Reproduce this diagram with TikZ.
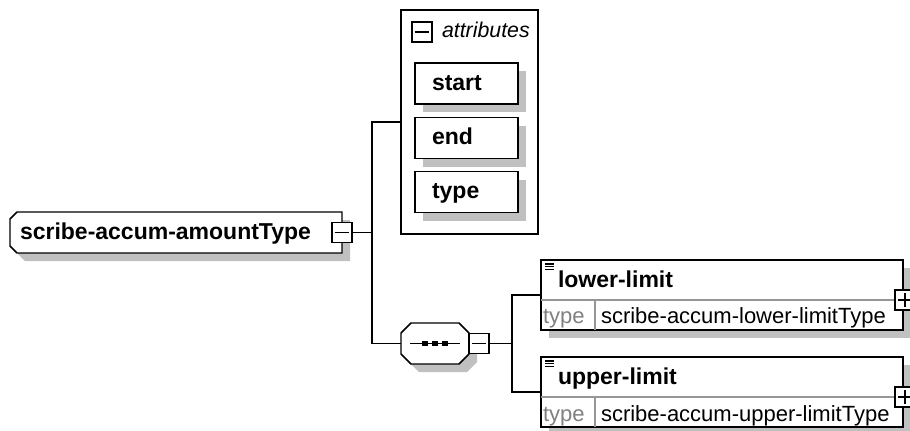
\documentclass[tikz,border=0pt]{standalone}
\usepackage{fontspec}
\setmainfont{Liberation Sans}
\usetikzlibrary{backgrounds,shadows}
\definecolor{shadowgray}{RGB}{192,192,192}
\definecolor{rowgray}{RGB}{150,150,150}
\definecolor{lblgray}{RGB}{128,128,128}
\newcommand\xsbold{\fontsize{17.25pt}{20pt}\selectfont\bfseries}
\newcommand\xsreg{\fontsize{16.5pt}{19pt}\selectfont}
\newcommand\xsital{\fontsize{16pt}{19pt}\selectfont\itshape}

\begin{document}
\begin{tikzpicture}[x=0.75pt, y=-0.75pt,
  every node/.style={inner sep=0pt, outer sep=0pt},
  shadebox/.style={drop shadow={shadow xshift=6pt, shadow yshift=-6pt, fill=shadowgray, opacity=1}},
  shadefill/.style={fill=shadowgray, transform canvas={xshift=6pt, yshift=-6pt}},
  outline/.style={draw, fill=white, line width=1.1pt},
  typebox/.style={minimum width=249pt, minimum height=30.75pt, text width=234pt, inner xsep=7.5pt, align=left, text height=13pt, text depth=3.2pt, font=\xsbold},
  togglebox/.style={draw, fill=white, line width=0.9pt, minimum size=15pt},
  minus/.style={path picture={\draw[line width=0.9pt] ([xshift=-5.5pt]path picture bounding box.center) -- ([xshift=5.5pt]path picture bounding box.center);}},
  plus/.style={path picture={\draw[line width=0.9pt] ([xshift=-5.5pt]path picture bounding box.center) -- ([xshift=5.5pt]path picture bounding box.center) ([yshift=-5.5pt]path picture bounding box.center) -- ([yshift=5.5pt]path picture bounding box.center);}},
  attrframe/.style={draw, fill=white, line width=1.1pt, minimum width=102.75pt, minimum height=168pt},
  grouplbl/.style={anchor=base west, font=\xsital},
  attrbox/.style={draw, fill=white, line width=1.1pt, minimum width=77.25pt, minimum height=30.75pt, text width=51.75pt, inner xsep=12.75pt, align=left, text height=13pt, text depth=3.2pt, font=\xsbold, shadebox},
  seqbox/.style={minimum width=51pt, minimum height=30.75pt,
    path picture={
      \draw[line width=1.1pt] ([xshift=-18.75pt]path picture bounding box.center) -- ([xshift=18.75pt]path picture bounding box.center);
      \foreach \dx in {-7.5pt,0pt,7.5pt}
        \fill[black] ([xshift=\dx]path picture bounding box.center) +(-2.1pt,-2.1pt) rectangle +(2.1pt,2.1pt);
    }},
  elembox/.style={draw, fill=white, line width=1.1pt, minimum width=271.5pt, minimum height=52.5pt, shadebox},
  elemname/.style={anchor=base west, font=\xsbold},
  typelbl/.style={anchor=base west, font=\xsreg, text=lblgray},
  typeval/.style={anchor=base west, font=\xsreg},
  rowline/.style={draw=rowgray, line width=0.9pt},
  iconline/.style={line width=1pt},
  conn/.style={line width=1.3pt}
]
\useasboundingbox (0,0) rectangle (910,430);

\node[typebox] (main) at (176,232.5) {scribe-accum-amountType};
\node[seqbox] (seq) at (435,343.5) {};
\begin{pgfonlayer}{background}
\foreach \sty in {shadefill,outline} {
  \path[\sty] ([xshift=5.25pt]main.north west) -- (main.north east) -- (main.south east)
    -- ([xshift=5.25pt]main.south west) -- ([yshift=5.25pt]main.south west)
    -- ([yshift=-5.25pt]main.north west) -- cycle;
  \path[\sty] ([xshift=7.5pt]seq.north west) -- ([xshift=-7.5pt]seq.north east)
    -- ([yshift=-7.5pt]seq.north east) -- ([yshift=7.5pt]seq.south east)
    -- ([xshift=-7.5pt]seq.south east) -- ([xshift=7.5pt]seq.south west)
    -- ([yshift=7.5pt]seq.south west) -- ([yshift=-7.5pt]seq.north west) -- cycle;
}
\end{pgfonlayer}
\node[togglebox, minus] (main-tog) at (main.east) {};
\node[togglebox, minus, anchor=west] (seq-tog) at (seq.east) {};

\node[attrframe] (attrs) at (469.5,122) {};
\node[togglebox, minus] (attrs-tog) at (422,32) {};
\node[grouplbl] (attrs-lbl) at (442,37) {attributes};
\node[attrbox] (a-start) at (466.5,83.5) {start};
\node[attrbox] (a-end)   at (466.5,138)  {end};
\node[attrbox] (a-type)  at (466.5,192)  {type};

\node[elembox] (low) at (722,295) {};
\draw[rowline] (low.west |- 0,300) -- (low.east |- 0,300);
\draw[rowline] (595,300) -- (595,330);
\node[elemname] (low-name) at (558,287) {lower-limit};
\node[typelbl]  (low-lbl)  at (543,323) {type};
\node[typeval]  (low-val)  at (601,323) {scribe-accum-lower-limitType};
\node[togglebox, plus] (low-tog) at (905,300) {};

\node[elembox] (up) at (722,392) {};
\draw[rowline] (up.west |- 0,397) -- (up.east |- 0,397);
\draw[rowline] (595,397) -- (595,427);
\node[elemname] (up-name) at (558,384) {upper-limit};
\node[typelbl]  (up-lbl)  at (543,421) {type};
\node[typeval]  (up-val)  at (601,421) {scribe-accum-upper-limitType};
\node[togglebox, plus] (up-tog) at (905,397) {};

\foreach \top in {260,357}
  \foreach \k in {0,1,2}
    \draw[iconline] (545,{\top+4+2.8*\k}) -- ++(9,0);

\coordinate (fork1) at (372,232.5);
\coordinate (fork2) at (512,343.5);
\draw[conn] (main-tog.east) -- (fork1);
\draw[conn] (fork1) |- (attrs.west);
\draw[conn] (fork1) |- (seq.west);
\draw[conn] (seq-tog.east) -- (fork2);
\draw[conn] (fork2) |- (low.west);
\draw[conn] (fork2) |- (up.west);
\end{tikzpicture}
\end{document}
